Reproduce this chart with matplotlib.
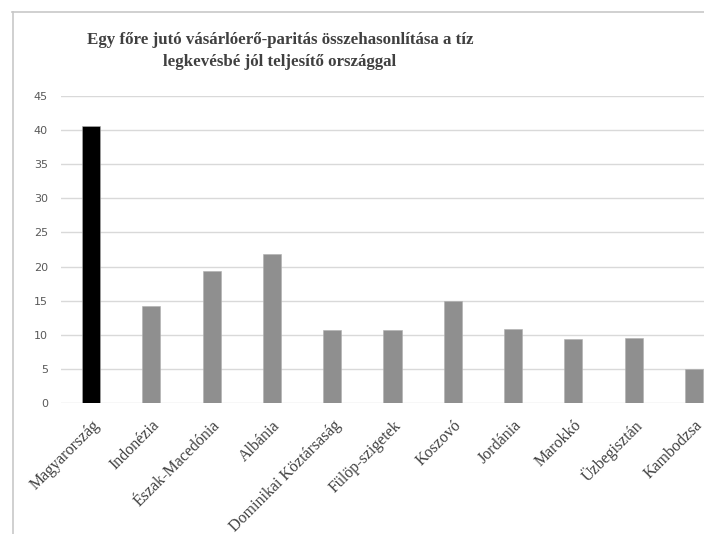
import matplotlib
matplotlib.use("Agg")
import matplotlib.pyplot as plt
from matplotlib.lines import Line2D
from matplotlib.transforms import ScaledTranslation

countries = ["Magyarország", "Indonézia", "Észak-Macedónia", "Albánia",
             "Dominikai Köztársaság", "Fülöp-szigetek", "Koszovó", "Jordánia",
             "Marokkó", "Üzbegisztán", "Kambodzsa"]
values = [40.6, 14.2, 19.3, 21.9, 10.7, 10.7, 14.9, 10.8, 9.4, 9.5, 5.0]
bar_colors = ["#000000"] + ["#8f8f8f"] * 10
yticks = [0, 5, 10, 15, 20, 25, 30, 35, 40, 45]

title = "Egy főre jutó vásárlóerő-paritás összehasonlítása a tíz\nlegkevésbé jól teljesítő országgal"

W, H = 704, 534
fig = plt.figure(figsize=(W / 100, H / 100), dpi=100)
fig.patch.set_facecolor("white")

# chart frame (top and left edges)
frame_kw = dict(transform=fig.transFigure, color="#c8c8c8", linewidth=1.2)
fig.add_artist(Line2D([12 / W, 1.0], [1 - 12 / H, 1 - 12 / H], **frame_kw))
fig.add_artist(Line2D([12.5 / W, 12.5 / W], [0, 1 - 12 / H], **frame_kw))

ax = fig.add_axes([61 / W, 131 / H, 663 / W, 307 / H])
x = list(range(len(countries)))
ax.bar(x, values, width=0.3, color=bar_colors, edgecolor="#b0b0b0",
       linewidth=0.4, zorder=3)
ax.set_xlim(-0.5, len(countries) - 0.5)
ax.set_ylim(0, 45)
ax.set_yticks(yticks)
ax.set_yticklabels([str(t) for t in yticks], fontfamily="DejaVu Sans",
                   fontsize=8, color="#595959")
ax.yaxis.grid(True, color="#d9d9d9", linewidth=1.0, zorder=0)
ax.set_axisbelow(True)
for s in ax.spines.values():
    s.set_visible(False)
ax.tick_params(axis="both", length=0)
ax.tick_params(axis="y", pad=9.5)
ax.set_xticks(x)
ax.set_xticklabels(countries, rotation=45, ha="right", va="center",
                   rotation_mode="anchor", fontfamily="Liberation Serif",
                   fontsize=11.5, color="#404040")
ax.tick_params(axis="x", pad=0)
shift = ScaledTranslation(6 / 100, -20 / 100, fig.dpi_scale_trans)
for lbl in ax.get_xticklabels():
    lbl.set_transform(lbl.get_transform() + shift)

fig.text(280 / W, 1 - 51 / H, title, ha="center", va="center",
         fontfamily="Liberation Serif", fontweight="bold", fontsize=12.2,
         color="#404040", linespacing=1.45)

fig.savefig("out.png", dpi=100)
